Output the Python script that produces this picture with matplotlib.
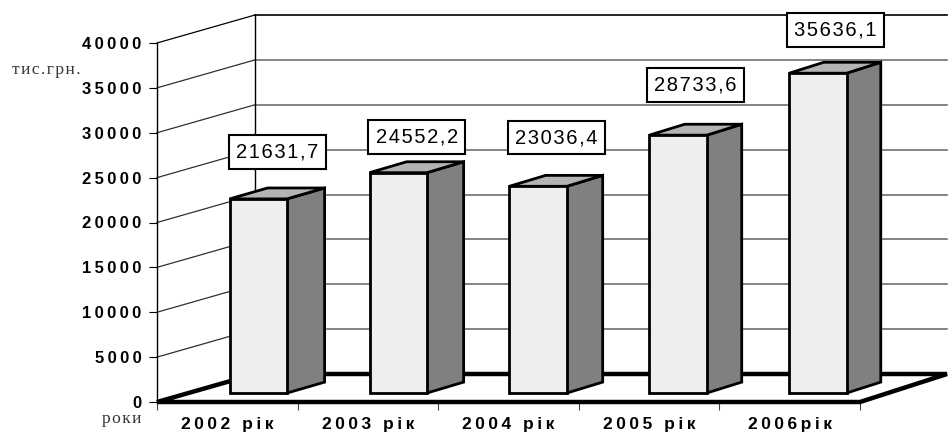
import matplotlib
matplotlib.use('Agg')
import matplotlib.pyplot as plt
from matplotlib.patches import Polygon

# ---------------- data ----------------
categories = ['2002 рік', '2003 рік', '2004 рік', '2005 рік', '2006рік']
values = [21631.7, 24552.2, 23036.4, 28733.6, 35636.1]
value_labels = ['21631,7', '24552,2', '23036,4', '28733,6', '35636,1']
y_ticks = [0, 5000, 10000, 15000, 20000, 25000, 30000, 35000, 40000]
label_lift = [4600, 3350, 4800, 5000, 4200]
y_unit = 'тис.грн.'
x_unit = 'роки'

plt.rcParams['font.family'] = ['Liberation Sans', 'DejaVu Sans']

W, H = 949, 433
fig = plt.figure(figsize=(W / 100, H / 100), dpi=100)
ax = fig.add_axes([157 / W, 31 / H, 703 / W, 359 / H])
ax.set_xlim(0, 5)
ax.set_ylim(0, 40000)
ax.patch.set_visible(False)

# depth offsets (oblique projection, slight perspective)
DX0 = 98 / 140.6
DX1 = 87 / 140.6
DY = 28 / (359 / 40000)


def P(u, v, d):
    return (u + d * (DX0 + (DX1 - DX0) * u / 5.0), v + d * DY)


def sp(s, gap='\u2009'):
    return gap.join(s)


# spines
for s in ['top', 'right', 'bottom']:
    ax.spines[s].set_visible(False)
ax.spines['left'].set_linewidth(1.0)
ax.spines['left'].set_color('black')

# y ticks
ax.set_yticks(y_ticks)
ax.set_yticklabels([sp(str(t)) for t in y_ticks], fontweight='bold', fontsize=12)
ax.tick_params(axis='y', length=6, width=0.8, pad=5, direction='out', colors='black')

# x ticks: boundaries major, labels minor
ax.set_xticks(range(6))
ax.set_xticklabels([''] * 6)
ax.tick_params(axis='x', which='major', length=6, width=0.8, color='#444444', direction='out')
ax.set_xticks([i + 0.5 for i in range(len(categories))], minor=True)
ax.set_xticklabels([sp(c) for c in categories], minor=True, fontweight='bold', fontsize=12.5)
ax.tick_params(axis='x', which='minor', length=0, pad=10.5)

# walls and gridlines
top = y_ticks[-1]
for v in y_ticks[1:]:
    a = P(0, v, 0)
    b = P(0, v, 1)
    c = P(5, v, 1)
    col_d = 'black' if v == top else '#303030'
    col_b = 'black' if v == top else '#707070'
    ax.plot([a[0], b[0]], [a[1], b[1]], color=col_d, lw=0.9, clip_on=False, zorder=1)
    ax.plot([b[0], c[0]], [b[1], c[1]], color=col_b, lw=1.2, clip_on=False, zorder=1)
b0 = P(0, 0, 1)
b1 = P(0, top, 1)
ax.plot([b0[0], b1[0]], [b0[1], b1[1]], color='black', lw=1.0, clip_on=False, zorder=1)

# floor
floor = Polygon([P(0, 0, 0), P(5, 0, 0), P(5, 0, 1), P(0, 0, 1)], closed=True,
                facecolor='white', edgecolor='black', lw=3.2, joinstyle='miter',
                clip_on=False, zorder=2)
ax.add_patch(floor)

# bars
half = 0.205
df, db = 0.32, 0.71
dm = (df + db) / 2
for i, v in enumerate(values):
    c = i + 0.5
    u0, u1 = c - half, c + half
    front = [P(u0, 0, df), P(u1, 0, df), P(u1, v, df), P(u0, v, df)]
    side = [P(u1, 0, df), P(u1, 0, db), P(u1, v, db), P(u1, v, df)]
    topf = [P(u0, v, df), P(u1, v, df), P(u1, v, db), P(u0, v, db)]
    for poly, fc in ((side, '#808080'), (topf, '#b4b4b4'), (front, '#eeeeee')):
        ax.add_patch(Polygon(poly, closed=True, facecolor=fc, edgecolor='black',
                             lw=2.0, joinstyle='miter', clip_on=False, zorder=3 + i))
    lx, ly = P(c, v, dm)
    ax.text(lx, ly + label_lift[i], sp(value_labels[i], '\u200a'), ha='center', va='center',
            fontsize=14.5, color='black', zorder=20, clip_on=False,
            bbox=dict(boxstyle='square,pad=0.36', fc='white', ec='black', lw=1.5))

# unit captions
fig.text(46 / W, 1 - 74 / H, sp(y_unit, '\u200a'), family=['Liberation Serif', 'DejaVu Serif'],
         fontsize=12.5, color='#333333', ha='center', va='baseline')
fig.text(122 / W, 1 - 423 / H, sp(x_unit, '\u200a'), family=['Liberation Serif', 'DejaVu Serif'],
         fontsize=12.5, color='#333333', ha='center', va='baseline')

fig.savefig('out.png', dpi=100)
